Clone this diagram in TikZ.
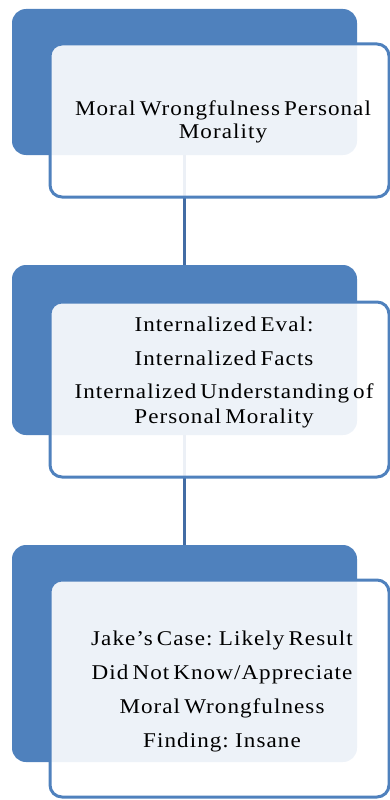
\documentclass[tikz,border=0pt]{standalone}
\usepackage{fontspec}
\setmainfont{Liberation Serif}[FakeStretch=1.1, LetterSpace=5, WordSpace=0.6]
\definecolor{accblue}{RGB}{79,129,189}
\definecolor{linkblue}{RGB}{66,108,164}
\begin{document}
\begin{tikzpicture}[x=1pt,y=-1pt]
\tikzset{
  bluebox/.style={fill=accblue, draw=none, rounded corners=14pt, inner sep=0pt},
  whitebox/.style={draw=accblue, line width=3pt, fill=white, fill opacity=0.9, rounded corners=12pt, inner sep=0pt},
  link/.style={draw=linkblue, line width=3.5pt},
  txt/.style={align=center, text=black, inner sep=0pt}
}
\useasboundingbox (0,0) rectangle (390,800);
% blue background boxes
\node[bluebox, minimum width=345pt, minimum height=146pt] (b1) at (184.5,82) {};
\node[bluebox, minimum width=345pt, minimum height=170pt] (b2) at (184.5,350) {};
\node[bluebox, minimum width=345pt, minimum height=217pt] (b3) at (184.5,653.5) {};
% connectors
\draw[link] (b1.south) -- (b2.north);
\draw[link] (b2.south) -- (b3.north);
% white boxes
\node[whitebox, minimum width=339pt, minimum height=153pt] (w1) at (219.5,120.5) {};
\node[whitebox, minimum width=339pt, minimum height=175pt] (w2) at (219.5,389.5) {};
\node[whitebox, minimum width=339pt, minimum height=217pt] (w3) at (219.5,688.5) {};
% texts
\node[txt, font=\fontsize{21}{23}\selectfont] (t1) at (223,122)
  {Moral Wrongfulness Personal\\Morality};
\node[txt, font=\fontsize{21}{25}\selectfont] (t2) at (224,372)
  {Internalized Eval:\\[9pt]Internalized Facts\\[8pt]Internalized Understanding of\\Personal Morality};
\node[txt, font=\fontsize{21}{34}\selectfont] (t3) at (222,691)
  {Jake's Case: Likely Result\\Did Not Know/Appreciate\\Moral Wrongfulness\\Finding: Insane};
\end{tikzpicture}
\end{document}
